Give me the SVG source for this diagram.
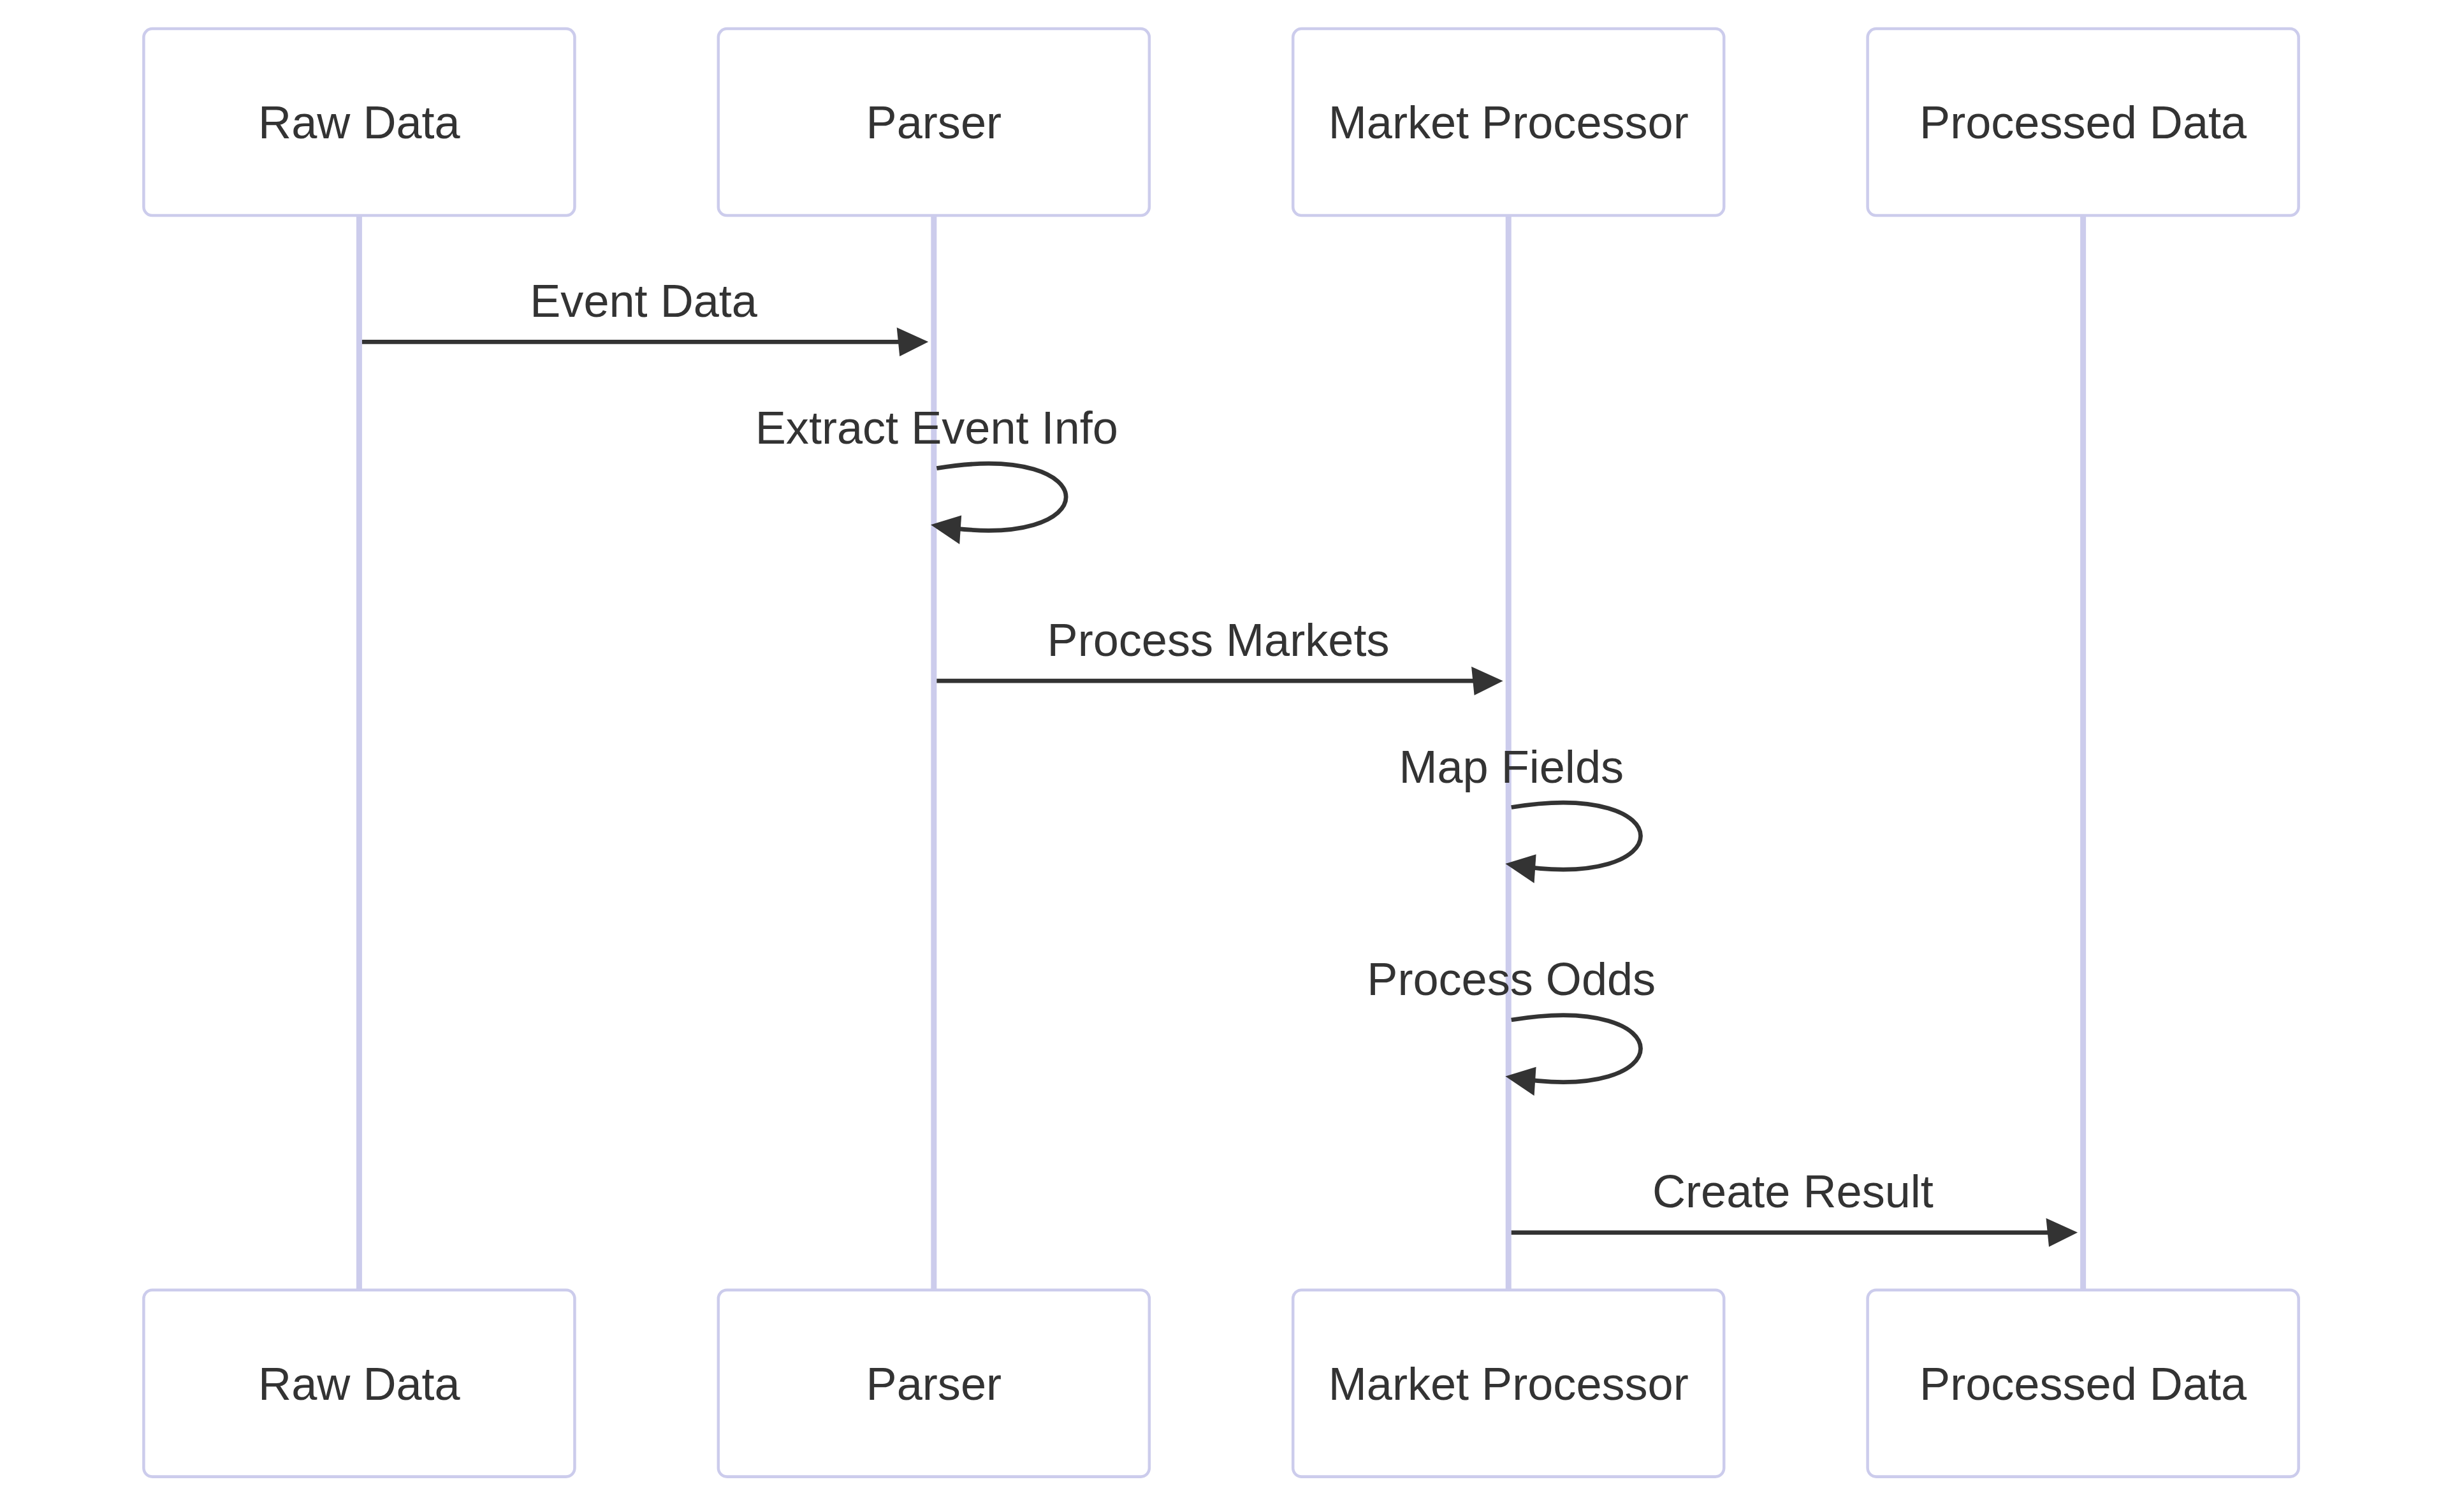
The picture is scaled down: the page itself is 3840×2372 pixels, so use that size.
<svg xmlns="http://www.w3.org/2000/svg" width="3840" height="2372" viewBox="0 0 3840 2372">
<defs>
<marker id="arrowhead" refX="7.9" refY="5" markerUnits="userSpaceOnUse" markerWidth="12" markerHeight="12" orient="auto-start-reverse" overflow="visible"><path d="M -1 0 L 10 5 L 0 10 z" fill="#333333"/></marker>
</defs>
<style>
.actor{fill:#ffffff;stroke:#CCCCEC;stroke-width:1}
.actor-line{stroke:#CCCCEC;stroke-width:2}
.actor-text{font-family:"Liberation Sans",Arial,sans-serif;font-size:16px;fill:#333333;text-anchor:middle}
.msg{stroke:#333333;stroke-width:1.5;fill:none;marker-end:url(#arrowhead)}
.msg-text{font-family:"Liberation Sans",Arial,sans-serif;font-size:16px;fill:#333333;text-anchor:middle}
</style>
<rect x="0" y="0" width="3840" height="2372" fill="#ffffff"/>
<g transform="translate(225.4 45.1) scale(4.507)">
<g id="lifelines">
<line class="actor-line" x1="75" y1="65" x2="75" y2="439"/>
<line class="actor-line" x1="275" y1="65" x2="275" y2="439"/>
<line class="actor-line" x1="475" y1="65" x2="475" y2="439"/>
<line class="actor-line" x1="675" y1="65" x2="675" y2="439"/>
</g>
<g id="actor-raw-data-top"><rect class="actor" x="0" y="0" width="150" height="65" rx="3" ry="3"/><text class="actor-text" x="75" y="38.1">Raw Data</text></g>
<g id="actor-parser-top"><rect class="actor" x="200" y="0" width="150" height="65" rx="3" ry="3"/><text class="actor-text" x="275" y="38.1">Parser</text></g>
<g id="actor-market-processor-top"><rect class="actor" x="400" y="0" width="150" height="65" rx="3" ry="3"/><text class="actor-text" x="475" y="38.1">Market Processor</text></g>
<g id="actor-processed-data-top"><rect class="actor" x="600" y="0" width="150" height="65" rx="3" ry="3"/><text class="actor-text" x="675" y="38.1">Processed Data</text></g>
<g id="actor-raw-data-bottom"><rect class="actor" x="0" y="439" width="150" height="65" rx="3" ry="3"/><text class="actor-text" x="75" y="477.3">Raw Data</text></g>
<g id="actor-parser-bottom"><rect class="actor" x="200" y="439" width="150" height="65" rx="3" ry="3"/><text class="actor-text" x="275" y="477.3">Parser</text></g>
<g id="actor-market-processor-bottom"><rect class="actor" x="400" y="439" width="150" height="65" rx="3" ry="3"/><text class="actor-text" x="475" y="477.3">Market Processor</text></g>
<g id="actor-processed-data-bottom"><rect class="actor" x="600" y="439" width="150" height="65" rx="3" ry="3"/><text class="actor-text" x="675" y="477.3">Processed Data</text></g>
<g id="connectors">
<text class="msg-text" x="174" y="100.2">Event Data</text>
<line class="msg" x1="76" y1="109" x2="271" y2="109"/>
<text class="msg-text" x="276" y="144.4">Extract Event Info</text>
<path class="msg" d="M 276,153 C 336,143 336,183 276,173"/>
<text class="msg-text" x="374" y="218.2">Process Markets</text>
<line class="msg" x1="276" y1="227" x2="471" y2="227"/>
<text class="msg-text" x="476" y="262.4">Map Fields</text>
<path class="msg" d="M 476,271 C 536,261 536,301 476,291"/>
<text class="msg-text" x="476" y="336.4">Process Odds</text>
<path class="msg" d="M 476,345 C 536,335 536,375 476,365"/>
<text class="msg-text" x="574" y="410.3">Create Result</text>
<line class="msg" x1="476" y1="419" x2="671" y2="419"/>
</g>
</g>
</svg>
